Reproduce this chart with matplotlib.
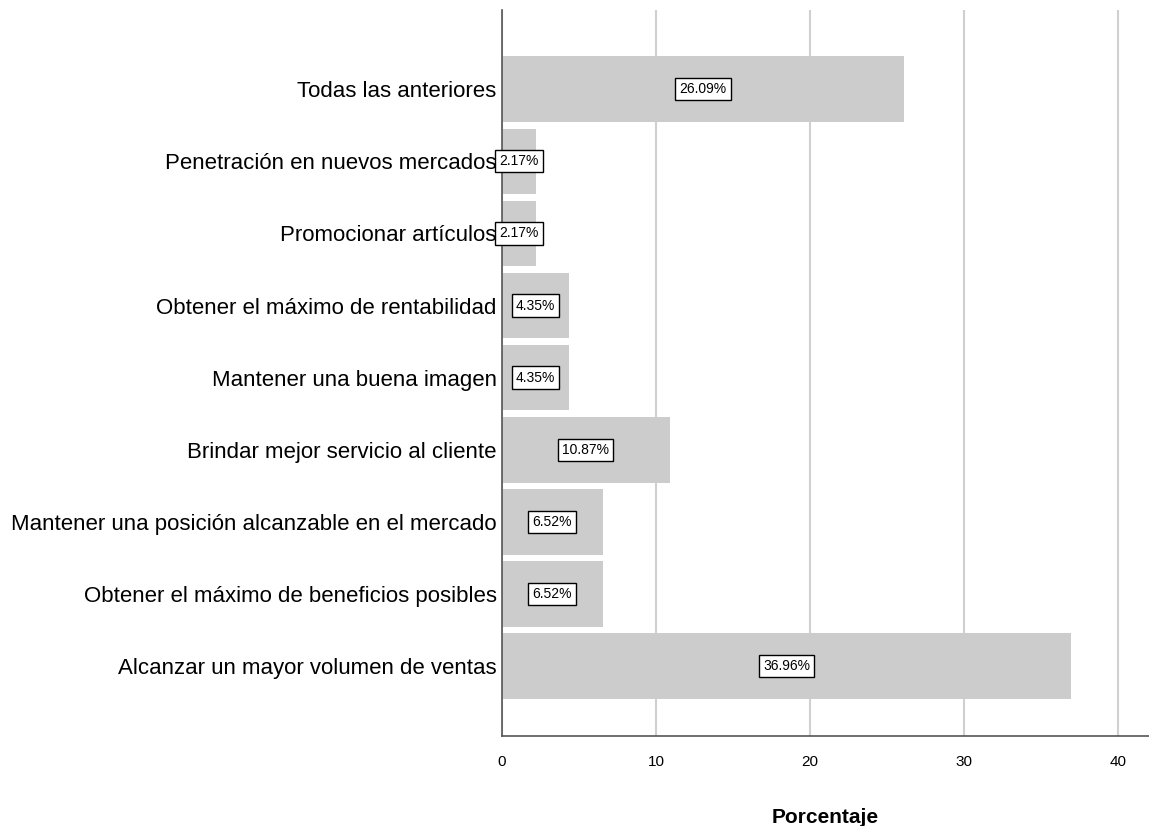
import matplotlib
matplotlib.use('Agg')
from matplotlib import pyplot as plt

# categories from bottom to top
categorias = [
    'Alcanzar un mayor volumen de ventas',
    'Obtener el máximo de beneficios posibles',
    'Mantener una posición alcanzable en el mercado',
    'Brindar mejor servicio al cliente',
    'Mantener una buena imagen',
    'Obtener el máximo de rentabilidad',
    'Promocionar artículos',
    'Penetración en nuevos mercados',
    'Todas las anteriores',
]
porcentajes = [36.96, 6.52, 6.52, 10.87, 4.35, 4.35, 2.17, 2.17, 26.09]
ticks_x = [0, 10, 20, 30, 40]

plt.rcParams['font.family'] = ['Liberation Sans', 'DejaVu Sans']

fig = plt.figure(figsize=(11.49, 8.26), dpi=100)
ax = fig.add_axes([0.437, 0.109, 0.563, 0.879])

pos = list(range(len(categorias)))
ax.barh(pos, porcentajes, height=0.91, color='#cccccc', zorder=2)
for p, v in zip(pos, porcentajes):
    ax.text(v / 2, p, '%.2f%%' % v, ha='center', va='center', fontsize=10,
            zorder=3, bbox=dict(boxstyle='square,pad=0.3', fc='white', ec='black', lw=1))

ax.set_xlim(0, 42)
ax.set_ylim(-0.97, 9.1)
ax.set_xticks(ticks_x)
ax.set_yticks(pos)
ax.set_yticklabels(categorias, fontsize=16)
ax.tick_params(axis='x', labelsize=11, length=0, pad=14)
ax.tick_params(axis='y', length=0, pad=4)
ax.xaxis.grid(True, color='#d0d0d0', lw=1.5, zorder=0)
for s in ['top', 'right']:
    ax.spines[s].set_visible(False)
for s in ['left', 'bottom']:
    ax.spines[s].set_color('#555555')
    ax.spines[s].set_linewidth(1.2)
ax.set_xlabel('Porcentaje', fontsize=15, fontweight='bold', labelpad=28)

fig.savefig('out.png', dpi=100)
